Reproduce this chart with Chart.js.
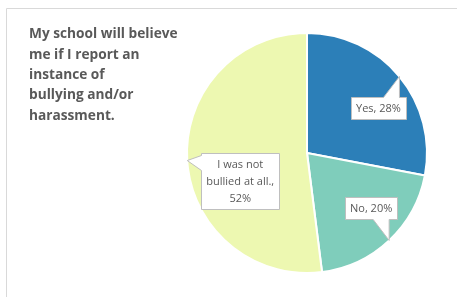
<!DOCTYPE html>
<html>
<head>
<meta charset="utf-8">
<script src="https://cdn.jsdelivr.net/npm/chart.js"></script>
<style>
  body { margin: 0; background: #fff; }
  #wrap { width: 457px; height: 297px; position: relative; }
</style>
</head>
<body>
<div id="wrap"><canvas id="pieChart"></canvas></div>
<script>
var categories = ['Yes', 'No', 'I was not bullied at all.'];
var values = [28, 20, 52];
var sliceColors = ['#2c7fb8', '#7fcdbb', '#edf8b1'];
var titleLines = ['My school will believe', 'me if I report an', 'instance of', 'bullying and/or', 'harassment.'];

// where each callout box sits, relative to the point it points at
var calloutShift = [[-21, 31], [-18, -32], [53, 20]];

function wrapText(ctx, text, maxW) {
    var words = text.split(' ');
    var lines = [];
    var cur = '';
    words.forEach(function (w) {
        var test = cur ? cur + ' ' + w : w;
        if (ctx.measureText(test).width > maxW && cur) {
            lines.push(cur);
            cur = w;
        } else {
            cur = test;
        }
    });
    lines.push(cur);
    return lines;
}

var framePlugin = {
    id: 'frame',
    beforeDraw: function (chart) {
        var ctx = chart.ctx;
        ctx.save();
        ctx.strokeStyle = '#d9d9d9';
        ctx.lineWidth = 1;
        ctx.beginPath();
        ctx.moveTo(6.5, 310);
        ctx.lineTo(6.5, 8.5);
        ctx.lineTo(470, 8.5);
        ctx.stroke();
        ctx.restore();
    },
    afterDraw: function (chart) {
        var ctx = chart.ctx;
        ctx.save();
        ctx.fillStyle = '#595959';
        ctx.font = 'bold 13.7px "Open Sans"';
        ctx.textBaseline = 'middle';
        titleLines.forEach(function (t, i) {
            ctx.fillText(t, 29, 34.5 + i * 20.3);
        });
        ctx.restore();
    }
};

var calloutPlugin = {
    id: 'callouts',
    afterDatasetsDraw: function (chart) {
        var ctx = chart.ctx;
        var arcs = chart.getDatasetMeta(0).data;
        ctx.save();
        ctx.font = '11px "Open Sans"';
        arcs.forEach(function (arc, i) {
            var mid = (arc.startAngle + arc.endAngle) / 2;
            var tx = arc.x + arc.outerRadius * Math.cos(mid);
            var ty = arc.y + arc.outerRadius * Math.sin(mid);
            var lines = wrapText(ctx, categories[i] + ', ' + values[i] + '%', 80);
            var tw = 0;
            lines.forEach(function (l) { tw = Math.max(tw, ctx.measureText(l).width); });
            var bw = Math.round(tw + 10), bh = lines.length * 17 + 5;
            var cx = tx + calloutShift[i][0], cy = ty + calloutShift[i][1];
            var L = Math.round(cx - bw / 2) + 0.5, T = Math.round(cy - bh / 2) + 0.5;
            var R = L + bw, B = T + bh;

            ctx.beginPath();
            if (ty < T) {
                var b1 = Math.max(L + 4, tx - 16), b2 = Math.min(R - 4, tx);
                ctx.moveTo(L, T); ctx.lineTo(b1, T); ctx.lineTo(tx, ty); ctx.lineTo(b2, T);
                ctx.lineTo(R, T); ctx.lineTo(R, B); ctx.lineTo(L, B);
            } else if (ty > B) {
                var b1 = Math.max(L + 4, tx - 16), b2 = Math.min(R - 4, tx);
                ctx.moveTo(L, T); ctx.lineTo(R, T); ctx.lineTo(R, B);
                ctx.lineTo(b2, B); ctx.lineTo(tx, ty); ctx.lineTo(b1, B); ctx.lineTo(L, B);
            } else {
                var b1 = Math.max(T + 2, ty - 8), b2 = Math.min(B - 4, ty + 10);
                ctx.moveTo(L, T); ctx.lineTo(R, T); ctx.lineTo(R, B); ctx.lineTo(L, B);
                ctx.lineTo(L, b2); ctx.lineTo(tx, ty); ctx.lineTo(L, b1);
            }
            ctx.closePath();
            ctx.fillStyle = '#ffffff';
            ctx.fill();
            ctx.strokeStyle = '#bfbfbf';
            ctx.lineWidth = 1;
            ctx.stroke();

            ctx.fillStyle = '#595959';
            ctx.textAlign = 'center';
            ctx.textBaseline = 'middle';
            lines.forEach(function (l, k) {
                ctx.fillText(l, cx, T + 2.5 + 8.5 + k * 17);
            });
        });
        ctx.restore();
    }
};

new Chart('pieChart', {
    type: 'pie',
    data: {
        labels: categories,
        datasets: [{
            data: values,
            backgroundColor: sliceColors,
            borderColor: '#ffffff',
            borderWidth: 2
        }]
    },
    options: {
        responsive: true,
        maintainAspectRatio: false,
        animation: false,
        events: [],
        layout: { padding: { left: 186, right: 29, top: 32, bottom: 23 } },
        plugins: {
            legend: { display: false },
            tooltip: { enabled: false }
        }
    },
    plugins: [framePlugin, calloutPlugin]
});
</script>
</body>
</html>
